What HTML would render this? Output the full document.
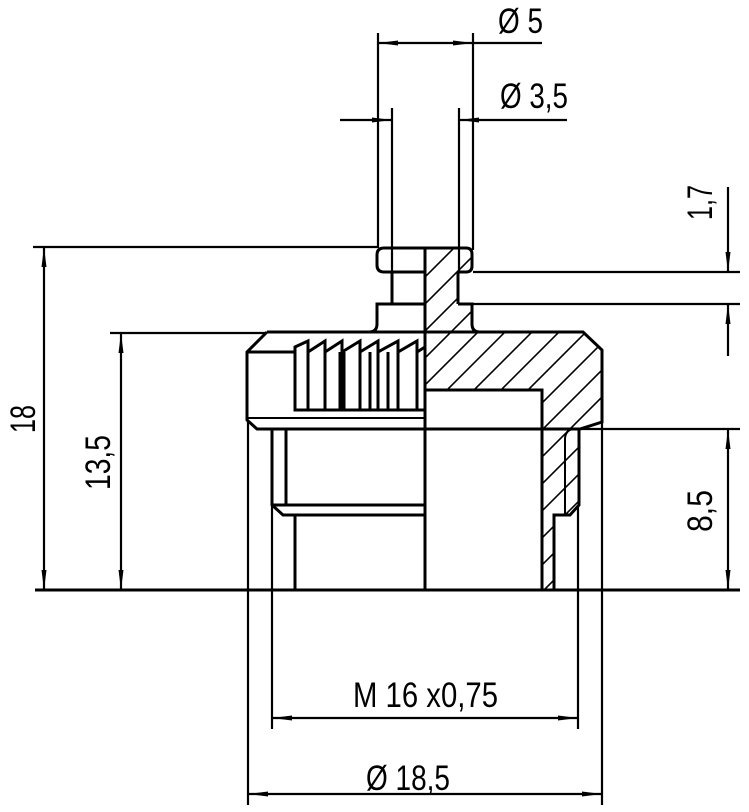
<!DOCTYPE html>
<html><head><meta charset="utf-8"><style>
html,body{margin:0;padding:0;background:#fff;}
svg{display:block;}
text{font-family:"Liberation Sans",sans-serif;fill:#000;}
</style></head><body>
<svg width="749" height="812" viewBox="0 0 749 812" xmlns="http://www.w3.org/2000/svg">
<defs>
<pattern id="h" patternUnits="userSpaceOnUse" width="27" height="27">
<path d="M-2,29 L29,-2 M-2,2 L2,-2 M25,29 L29,25" stroke="#000" stroke-width="1.6"/>
</pattern>
<marker id="a" viewBox="0 0 20 8" refX="20" refY="4" markerWidth="20" markerHeight="8" markerUnits="userSpaceOnUse" orient="auto-start-reverse">
<path d="M0,1.5 L20,4 L0,6.5 z" fill="#000"/>
</marker>
</defs>

<path d="M425,248 L466,248 Q472,248 472,254 L472,266 Q472,272 466,272 L458,272 L458,304 L472,304 L472,324 Q472,332 480,332 L583,332 L602,350 L602,422 L580,429 L579,429 L579,505 L570,515 L554,515 L554,590 L542,590 L542,390 L425,390 Z" fill="url(#h)" stroke="none"/>

<g stroke="#000" fill="none" stroke-width="3">
<line x1="35" y1="590" x2="740" y2="590"/>
<line x1="425" y1="248" x2="425" y2="590"/>
<path d="M425,248 L384,248 Q377,248 377,255 L377,265 Q377,272 384,272 L425,272"/>
<path d="M425,248 L466,248 Q472,248 472,254 L472,266 Q472,272 466,272 L458,272"/>
<line x1="392" y1="272" x2="392" y2="304"/>
<line x1="458" y1="272" x2="458" y2="304"/>
<path d="M425,304 L377,304 L377,324 Q377,332 369,332"/>
<path d="M458,304 L472,304 L472,324 Q472,332 480,332"/>
<path d="M267,332 L583,332 L602,350 L602,422 L580,429 L425,429"/>
<path d="M267,332 L247,352 L247,420 L257,429 L425,429"/>
<path d="M425,390 L542,390 L542,590"/>
<path d="M554,590 L554,515 L570,515 L579,505 L579,429"/>
<path d="M565,515 L565,438 Q566,429 575,429" stroke-width="2"/>
<path d="M247,352 L295,352 L295,410 L425,410"/>
<line x1="247" y1="418" x2="425" y2="418" stroke-width="2"/>
<path d="M295,352 L295,347 L308,341 L308,352 L325,341 L325,352 L342,341 L342,352 L360,341 L360,352 L378,341 L378,352 L398,341 L398,352 L417,341 L417,352 L425,347"/>
<g stroke-width="3">
<line x1="308" y1="341" x2="308" y2="410"/>
<line x1="325" y1="341" x2="325" y2="410"/>
<line x1="342" y1="341" x2="342" y2="410"/>
<line x1="360" y1="341" x2="360" y2="410"/>
<line x1="378" y1="341" x2="378" y2="410"/>
<line x1="398" y1="341" x2="398" y2="410"/>
<line x1="417" y1="341" x2="417" y2="410"/>
<line x1="340" y1="352" x2="340" y2="410"/>
<line x1="344" y1="352" x2="344" y2="410"/>
<line x1="370" y1="352" x2="370" y2="410"/>
<line x1="388" y1="352" x2="388" y2="410"/>
</g>
<path d="M272,430 L272,505 L283,515 L425,515"/>
<line x1="272" y1="505" x2="425" y2="505"/>
<line x1="286" y1="430" x2="286" y2="505"/>
<line x1="295" y1="515" x2="295" y2="590"/>
</g>

<g stroke="#000" fill="none" stroke-width="2.2">
<line x1="378" y1="33" x2="378" y2="248"/>
<line x1="473" y1="33" x2="473" y2="250"/>
<line x1="378" y1="43" x2="473" y2="43" marker-start="url(#a)" marker-end="url(#a)"/>
<line x1="473" y1="43" x2="542" y2="43"/>
<line x1="392" y1="108" x2="392" y2="272"/>
<line x1="459" y1="108" x2="459" y2="272"/>
<line x1="340" y1="120" x2="392" y2="120" marker-end="url(#a)"/>
<line x1="567" y1="120" x2="459" y2="120" marker-end="url(#a)"/>
<line x1="33" y1="247" x2="377" y2="247"/>
<line x1="44" y1="247" x2="44" y2="590" marker-start="url(#a)" marker-end="url(#a)"/>
<line x1="110" y1="333" x2="267" y2="333"/>
<line x1="121" y1="333" x2="121" y2="590" marker-start="url(#a)" marker-end="url(#a)"/>
<line x1="473" y1="272" x2="740" y2="272"/>
<line x1="459" y1="304" x2="740" y2="304"/>
<line x1="728" y1="187" x2="728" y2="272" marker-end="url(#a)"/>
<line x1="728" y1="356" x2="728" y2="304" marker-end="url(#a)"/>
<line x1="580" y1="429" x2="740" y2="429"/>
<line x1="728" y1="429" x2="728" y2="590" marker-start="url(#a)" marker-end="url(#a)"/>
<line x1="272" y1="505" x2="272" y2="729"/>
<line x1="578" y1="505" x2="578" y2="729"/>
<line x1="272" y1="718" x2="578" y2="718" marker-start="url(#a)" marker-end="url(#a)"/>
<line x1="248" y1="420" x2="248" y2="805"/>
<line x1="602" y1="422" x2="602" y2="805"/>
<line x1="248" y1="794" x2="602" y2="794" marker-start="url(#a)" marker-end="url(#a)"/>
</g>

<g font-size="35">
<text x="498" y="33" textLength="45" lengthAdjust="spacingAndGlyphs">Ø 5</text>
<text x="500" y="108" textLength="68" lengthAdjust="spacingAndGlyphs">Ø 3,5</text>
<text x="353" y="707" textLength="145" lengthAdjust="spacingAndGlyphs">M 16 x0,75</text>
<text x="366" y="790" textLength="84" lengthAdjust="spacingAndGlyphs">Ø 18,5</text>
<text transform="translate(35,433) rotate(-90)" textLength="28" lengthAdjust="spacingAndGlyphs">18</text>
<text transform="translate(110,490) rotate(-90)" textLength="55" lengthAdjust="spacingAndGlyphs">13,5</text>
<text transform="translate(712,220) rotate(-90)" textLength="35" lengthAdjust="spacingAndGlyphs">1,7</text>
<text transform="translate(712,532) rotate(-90)" textLength="42" lengthAdjust="spacingAndGlyphs">8,5</text>
</g>
</svg>
</body></html>
